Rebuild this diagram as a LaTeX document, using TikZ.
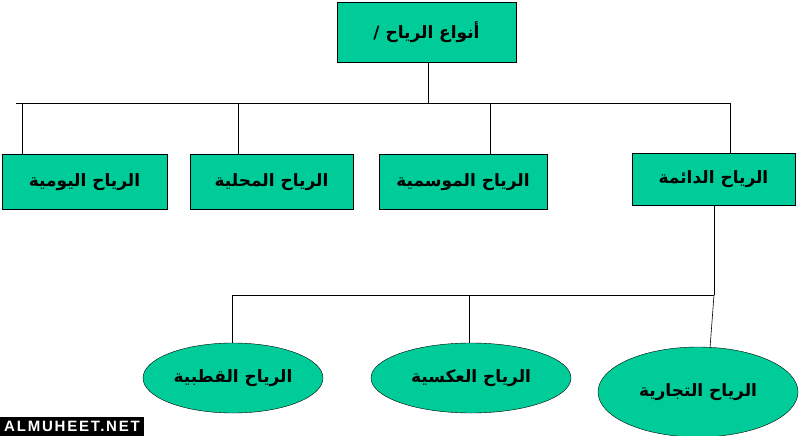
\documentclass[tikz,border=0pt]{standalone}
\usepackage{fontspec}
\setmainfont{Liberation Sans}
\newfontfamily\arabicfont[Script=Arabic]{DejaVu Sans}
\TeXXeTstate=1
\usetikzlibrary{shapes.geometric}
\definecolor{boxgreen}{rgb}{0,0.8,0.6}
\tikzset{
  kindbox/.style={draw=black,fill=boxgreen,rectangle,inner sep=0pt,font=\arabicfont\bfseries\fontsize{17}{20}\selectfont},
  kindoval/.style={draw=black,fill=boxgreen,ellipse,inner sep=0pt,font=\arabicfont\bfseries\fontsize{17}{20}\selectfont},
  link/.style={draw=black,line width=0.6pt}
}
\begin{document}
\begin{tikzpicture}[x=1pt,y=-1pt]
\useasboundingbox (0,0) rectangle (800,436);
\node[kindbox,minimum width=179,minimum height=60] (top) at (426.5,32) {\beginR أنواع الرياح /\endR};
\node[kindbox,minimum width=165,minimum height=55] (daily) at (84.5,182) {\beginR الرياح اليومية\endR};
\node[kindbox,minimum width=163,minimum height=55] (local) at (271.5,182) {\beginR الرياح المحلية\endR};
\node[kindbox,minimum width=168,minimum height=55] (season) at (463,182) {\beginR الرياح الموسمية\endR};
\node[kindbox,minimum width=163,minimum height=52] (perm) at (713.5,179) {\beginR الرياح الدائمة\endR};
\node[kindoval,minimum width=180,minimum height=70] (polar) at (233,378) {\beginR الرياح القطبية\endR};
\node[kindoval,minimum width=200,minimum height=70] (anti) at (471,378) {\beginR الرياح العكسية\endR};
\node[kindoval,minimum width=200,minimum height=90] (trade) at (698,392) {\beginR الرياح التجارية\endR};
% upper tree
\coordinate (hub) at (428,103);
\coordinate (barL) at (16,103);
\coordinate (barR) at (730,103);
\draw[link] (top.south -| hub) -- (hub);
\draw[link] (barL) -- (barR);
\draw[link] (22,103) -- (22,155);
\draw[link] (238,103) -- (238,155);
\draw[link] (490,103) -- (490,155);
\draw[link] (barR) -- (730,153);
% lower tree
\coordinate (sub) at (714,295);
\draw[link] (714,205) -- (sub);
\draw[link] (232,295) -- (sub);
\draw[link] (232,295) -- (polar.north -| 232,0);
\draw[link] (469,295) -- (anti.north -| 469,0);
\draw[link] (sub) -- (710,348);
\node[fill=black,text=white,font=\bfseries\fontsize{15}{17}\selectfont,inner xsep=4pt,inner ysep=4pt,anchor=south west] (mark) at (0,436) {\addfontfeatures{LetterSpace=12}ALMUHEET.NET};
\end{tikzpicture}
\end{document}
